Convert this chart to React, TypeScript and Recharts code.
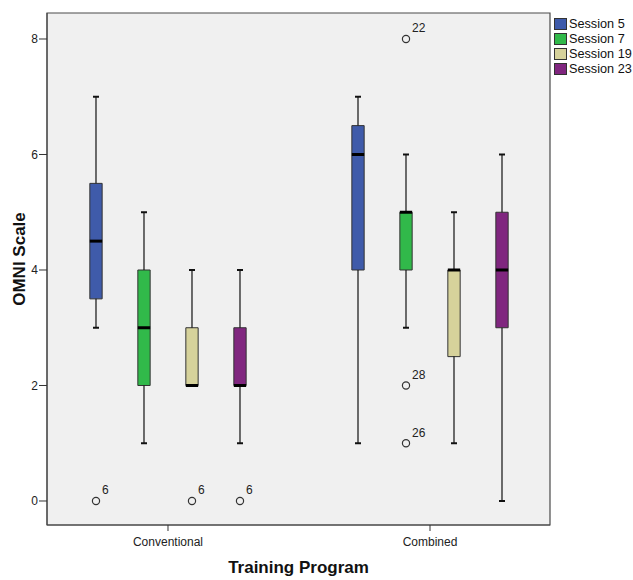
import React from 'react';
import { ComposedChart, XAxis, YAxis, ReferenceArea, ReferenceLine, Scatter } from 'recharts';

// ---------- data ----------
const categories = ['Conventional', 'Combined'];
const sessions = ['Session 5', 'Session 7', 'Session 19', 'Session 23'];
const sessionColors = ['#3f5baa', '#31b94a', '#d6d29b', '#80267f'];
// [lower whisker, Q1, median, Q3, upper whisker] for [Conventional, Combined]
const session5 = [[3, 3.5, 4.5, 5.5, 7], [1, 4, 6, 6.5, 7]];
const session7 = [[1, 2, 3, 4, 5], [3, 4, 5, 5, 6]];
const session19 = [[2, 2, 2, 3, 4], [1, 2.5, 4, 4, 5]];
const session23 = [[1, 2, 2, 3, 4], [0, 3, 4, 5, 6]];
const outlierCategory = [0, 0, 0, 1, 1, 1];
const outlierSession = [0, 2, 3, 1, 1, 1];
const outlierValues = [0, 0, 0, 8, 2, 1];
const outlierLabels = ['6', '6', '6', '22', '28', '26'];
const yTicks = [0, 2, 4, 6, 8];
const xTicks = [0, 1];

// ---------- layout ----------
const FONT = '"Liberation Sans", Arial, sans-serif';
const W = 633;
const H = 580;
const X_DOMAIN: [number, number] = [-0.4618, 1.458];
const Y_DOMAIN: [number, number] = [-0.4156, 8.45];
const SERIES_OFFSET = [-0.2748, -0.0916, 0.0916, 0.2748];
const BOX_HALF = 0.0235;
const CAP_HALF = 0.0115;

const sessionStats = [session5, session7, session19, session23];

const outliers = outlierValues.map((v, i) => ({
  x: outlierCategory[i] + SERIES_OFFSET[outlierSession[i]],
  y: v,
  label: outlierLabels[i],
}));

const OutlierShape = (p: any) => (
  <g>
    <circle cx={p.cx} cy={p.cy} r={3.6} fill="none" stroke="#333" strokeWidth={1.2} />
    <text x={p.cx + 6} y={p.cy - 6.5} fontSize={12} fontFamily={FONT} fill="#222">
      {p.payload.label}
    </text>
  </g>
);

const YTitle = (props: any) => {
  const vb = props.viewBox || {};
  const cx = 19;
  const cy = (vb.y ?? 13) + (vb.height ?? 512) / 2 - 10;
  return (
    <text
      x={cx}
      y={cy}
      transform={`rotate(-90, ${cx}, ${cy})`}
      textAnchor="middle"
      dominantBaseline="central"
      fontSize={17}
      fontWeight="bold"
      fontFamily={FONT}
      fill="#111"
    >
      OMNI Scale
    </text>
  );
};

const XTitle = (props: any) => {
  const vb = props.viewBox || {};
  const cx = (vb.x ?? 47) + (vb.width ?? 503) / 2;
  return (
    <text x={cx} y={573} textAnchor="middle" fontSize={17} fontWeight="bold" fontFamily={FONT} fill="#111">
      Training Program
    </text>
  );
};

export default function App() {
  const els: React.ReactNode[] = [];
  sessionStats.forEach((stats, s) => {
    stats.forEach((st, c) => {
      const [lo, q1, med, q3, hi] = st;
      const xc = c + SERIES_OFFSET[s];
      const k = `${s}-${c}`;
      if (hi > q3) {
        els.push(
          <ReferenceLine key={k + 'wu'} segment={[{ x: xc, y: q3 }, { x: xc, y: hi }]} stroke="#111" strokeWidth={1.2} />
        );
        els.push(
          <ReferenceLine key={k + 'cu'} segment={[{ x: xc - CAP_HALF, y: hi }, { x: xc + CAP_HALF, y: hi }]} stroke="#111" strokeWidth={2} />
        );
      }
      if (lo < q1) {
        els.push(
          <ReferenceLine key={k + 'wl'} segment={[{ x: xc, y: lo }, { x: xc, y: q1 }]} stroke="#111" strokeWidth={1.2} />
        );
        els.push(
          <ReferenceLine key={k + 'cl'} segment={[{ x: xc - CAP_HALF, y: lo }, { x: xc + CAP_HALF, y: lo }]} stroke="#111" strokeWidth={2} />
        );
      }
      els.push(
        <ReferenceArea
          key={k + 'box'}
          x1={xc - BOX_HALF}
          x2={xc + BOX_HALF}
          y1={q1}
          y2={q3}
          fill={sessionColors[s]}
          fillOpacity={1}
          stroke="#333"
          strokeWidth={1}
        />
      );
      els.push(
        <ReferenceLine key={k + 'med'} segment={[{ x: xc - BOX_HALF, y: med }, { x: xc + BOX_HALF, y: med }]} stroke="#000" strokeWidth={3} />
      );
    });
  });

  return (
    <div style={{ position: 'relative', width: W, height: H, background: '#fff', overflow: 'hidden' }}>
      <style>{'html,body{margin:0;padding:0;overflow:hidden;}'}</style>
      <ComposedChart width={W} height={H} margin={{ top: 13, right: 83, bottom: 0, left: 0 }}>
        <XAxis
          type="number"
          dataKey="x"
          domain={X_DOMAIN}
          ticks={xTicks}
          interval={0}
          allowDataOverflow
          tickFormatter={(v: number) => categories[v] ?? ''}
          height={55}
          tickSize={6}
          tickMargin={6}
          axisLine={{ stroke: '#444' }}
          tickLine={{ stroke: '#333' }}
          tick={{ fill: '#222', fontSize: 12, fontFamily: FONT }}
          label={XTitle}
        />
        <YAxis
          type="number"
          dataKey="y"
          domain={Y_DOMAIN}
          ticks={yTicks}
          allowDataOverflow
          width={47}
          tickSize={8}
          tickMargin={1}
          axisLine={{ stroke: '#444' }}
          tickLine={{ stroke: '#333' }}
          tick={{ fill: '#222', fontSize: 12, fontFamily: FONT }}
          label={YTitle}
        />
        <ReferenceArea
          x1={X_DOMAIN[0]}
          x2={X_DOMAIN[1]}
          y1={Y_DOMAIN[0]}
          y2={Y_DOMAIN[1]}
          fill="#f0f0f0"
          fillOpacity={1}
          stroke="#4a4a4a"
          strokeWidth={1.2}
        />
        {els}
        <Scatter data={outliers} dataKey="y" isAnimationActive={false} shape={OutlierShape} />
      </ComposedChart>
      <div
        style={{
          position: 'absolute',
          left: 554,
          top: 16,
          width: 79,
          fontFamily: FONT,
          fontSize: 12.7,
          color: '#111',
        }}
      >
        {sessions.map((name, i) => (
          <div key={name} style={{ display: 'flex', alignItems: 'center', height: 15, whiteSpace: 'nowrap' }}>
            <div
              style={{
                width: 13,
                height: 12,
                boxSizing: 'border-box',
                border: '1px solid #333',
                background: sessionColors[i],
                marginRight: 2,
                flexShrink: 0,
              }}
            />
            <span style={{ whiteSpace: 'nowrap', flexShrink: 0 }}>{name}</span>
          </div>
        ))}
      </div>
    </div>
  );
}
